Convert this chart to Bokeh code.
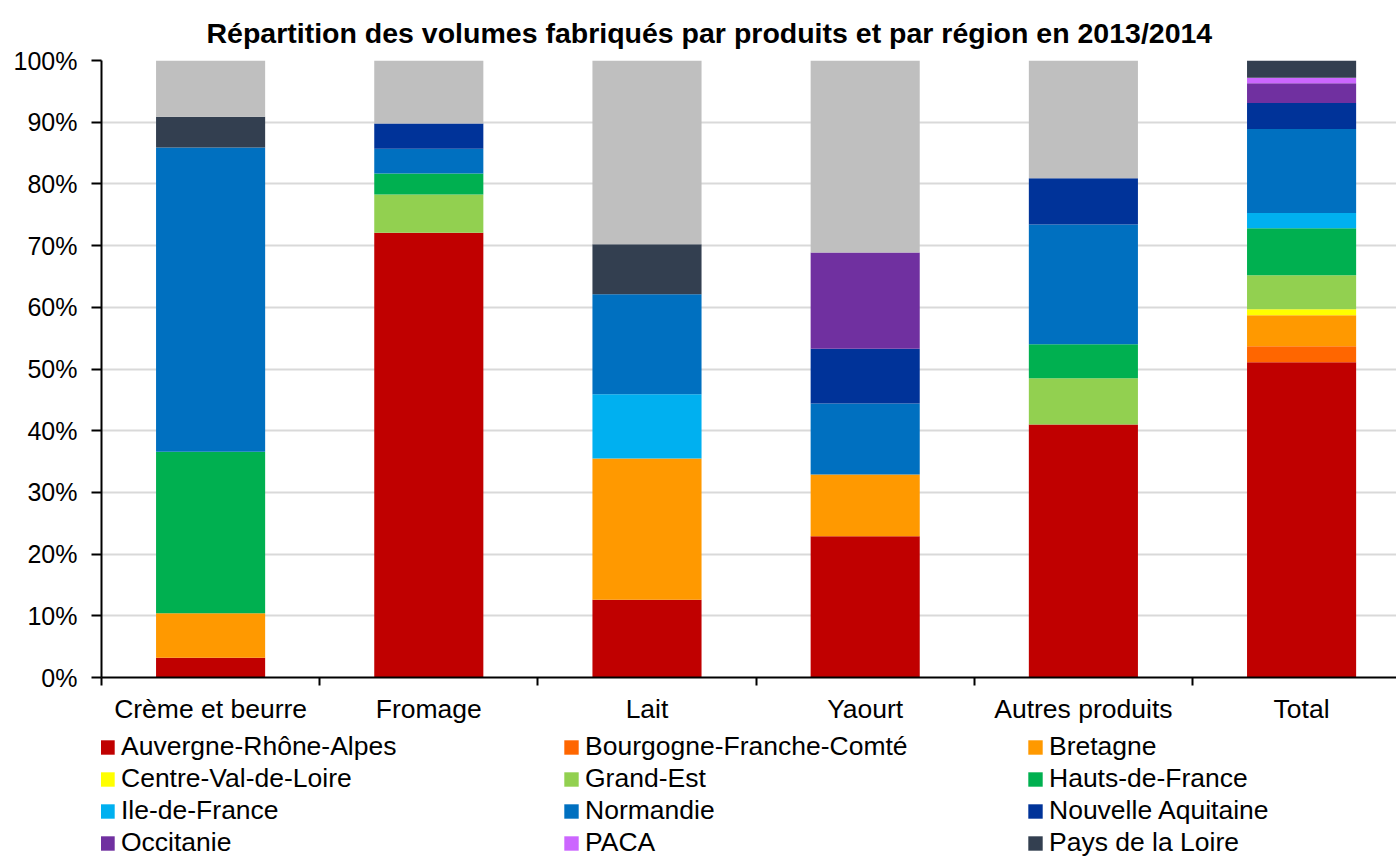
from bokeh.plotting import figure
from bokeh.layouts import column
from bokeh.models import ColumnDataSource, FixedTicker, Legend, LegendItem, Range1d
from bokeh.embed import file_html
from bokeh.resources import INLINE

categories = ["Crème et beurre", "Fromage", "Lait", "Yaourt", "Autres produits", "Total"]
regions = ["Auvergne-Rhône-Alpes", "Bourgogne-Franche-Comté", "Bretagne", "Centre-Val-de-Loire",
           "Grand-Est", "Hauts-de-France", "Ile-de-France", "Normandie", "Nouvelle Aquitaine",
           "Occitanie", "PACA", "Pays de la Loire", "Autres"]
colors = ["#C00000", "#FF6600", "#FF9900", "#FFFF00", "#92D050", "#00B050", "#00B0F0",
          "#0070C0", "#003399", "#7030A0", "#CC66FF", "#333F50", "#BFBFBF"]

# percentages per region, in category order
auvergne = [3.2, 72.1, 12.6, 22.9, 41.0, 51.1]
bourgogne = [0, 0, 0, 0, 0, 2.6]
bretagne = [7.2, 0, 22.9, 10.0, 0, 5.0]
centre = [0, 0, 0, 0, 0, 1.0]
grand_est = [0, 6.2, 0, 0, 7.5, 5.5]
hauts = [26.2, 3.4, 0, 0, 5.5, 7.6]
idf = [0, 0, 10.4, 0, 0, 2.5]
normandie = [49.3, 4.0, 16.2, 11.5, 19.4, 13.6]
nouvelle_aq = [0, 4.1, 0, 8.9, 7.5, 4.2]
occitanie = [0, 0, 0, 15.6, 0, 3.2]
paca = [0, 0, 0, 0, 0, 0.9]
pays_loire = [5.0, 0, 8.1, 0, 0, 2.8]
autres = [9.1, 10.2, 29.8, 31.1, 19.1, 0]

series = [auvergne, bourgogne, bretagne, centre, grand_est, hauts, idf, normandie,
          nouvelle_aq, occitanie, paca, pays_loire, autres]

FONT = "Liberation Sans"

p = figure(frame_width=1295, frame_height=617, output_backend="svg", toolbar_location=None,
           x_range=Range1d(0, 5.935), y_range=Range1d(0, 100),
           min_border_left=101, min_border_right=0, min_border_top=60, min_border_bottom=0)
p.outline_line_color = None
p.background_fill_color = "white"

xs = [i + 0.5 for i in range(len(categories))]
data = {"x": xs}
keys = []
for i, s in enumerate(series):
    k = f"s{i}"
    keys.append(k)
    data[k] = s
src = ColumnDataSource(data)
renderers = p.vbar_stack(keys, x="x", width=0.5, source=src, color=colors, line_width=0)

# title
p.title.text = "Répartition des volumes fabriqués par produits et par région en 2013/2014"
p.title.text_font = FONT
p.title.text_font_size = "28.5px"
p.title.text_font_style = "bold"
p.title.text_color = "black"
p.title.align = "left"
p.title.offset = 105
p.title.standoff = 24

# y axis
p.yaxis.ticker = FixedTicker(ticks=list(range(0, 101, 10)))
p.yaxis.major_label_overrides = {v: f"{v}%" for v in range(0, 101, 10)}
p.yaxis.major_label_text_font = FONT
p.yaxis.major_label_text_font_size = "25px"
p.yaxis.major_label_text_color = "black"
p.yaxis.axis_line_color = "black"
p.yaxis.axis_line_width = 2
p.yaxis.major_tick_line_color = "black"
p.yaxis.major_tick_line_width = 2
p.yaxis.major_tick_in = 0
p.yaxis.major_tick_out = 10
p.yaxis.minor_tick_line_color = None
p.yaxis.major_label_standoff = 14

# x axis
p.xaxis.ticker = FixedTicker(ticks=xs, minor_ticks=list(range(0, 7)))
p.xaxis.major_label_overrides = {x: c for x, c in zip(xs, categories)}
p.xaxis.major_label_text_font = FONT
p.xaxis.major_label_text_font_size = "26.5px"
p.xaxis.major_label_text_color = "black"
p.xaxis.axis_line_color = "black"
p.xaxis.axis_line_width = 2
p.xaxis.major_tick_line_color = None
p.xaxis.major_tick_out = 0
p.xaxis.major_tick_in = 0
p.xaxis.minor_tick_line_color = "black"
p.xaxis.minor_tick_line_width = 2
p.xaxis.minor_tick_in = 0
p.xaxis.minor_tick_out = 8
p.xaxis.major_label_standoff = 8

p.xgrid.grid_line_color = None
p.ygrid.grid_line_color = "#D9D9D9"
p.ygrid.grid_line_width = 2

# legend figure (below the chart): same stacked bars, kept outside its visible range,
# only used as legend sources
lf = figure(width=1396, height=132, output_backend="svg", toolbar_location=None,
            x_range=Range1d(-20, -19), y_range=Range1d(-20, -19),
            x_axis_location=None, y_axis_location=None, min_border=0)
lf.outline_line_color = None
lf.grid.grid_line_color = None
lrend = lf.vbar_stack(keys, x="x", width=0.5, source=src, color=colors, line_width=0)

items = [LegendItem(label=regions[i], renderers=[lrend[i]]) for i in range(12)]
lg = Legend(items=items, location=(-3, 0), orientation="horizontal", ncols=3,
            label_text_font=FONT, label_text_font_size="26.5px", label_text_color="black",
            glyph_width=18, glyph_height=18, label_standoff=5, label_width=440,
            spacing=1, label_height=28, padding=0, margin=0,
            border_line_alpha=0, background_fill_alpha=0)
lf.add_layout(lg, "center")

open("out.html", "w").write(file_html(column(p, lf, spacing=0), INLINE))
